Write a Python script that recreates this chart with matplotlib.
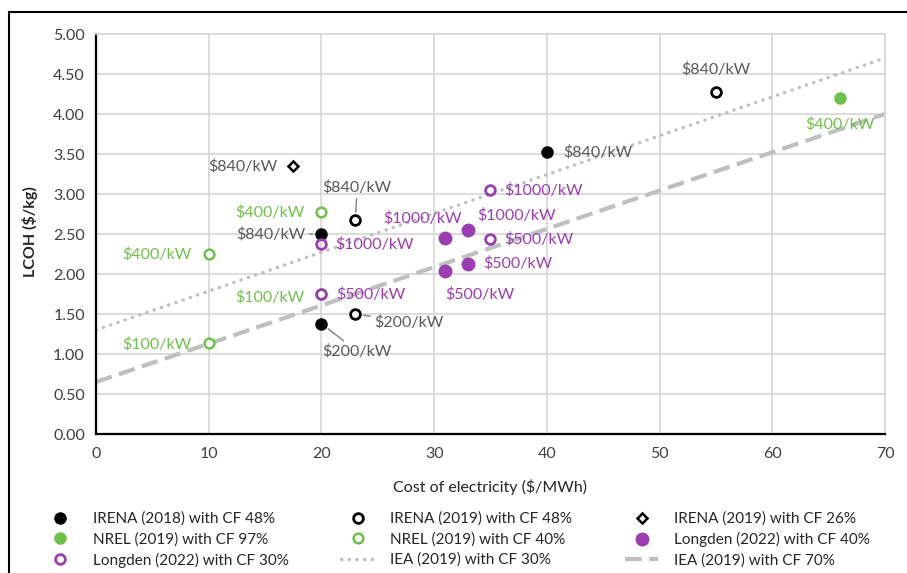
import matplotlib
matplotlib.use("Agg")
import matplotlib.pyplot as plt
from matplotlib.lines import Line2D
from matplotlib.patches import Rectangle

plt.rcParams["font.family"] = ["Lato", "DejaVu Sans"]

# ===== Data =====
irena18_x = [20, 40, 20]
irena18_y = [2.50, 3.52, 1.38]
irena18_lab = ["$840/kW", "$840/kW", "$200/kW"]

irena19_x = [23, 55, 23]
irena19_y = [2.67, 4.27, 1.50]
irena19_lab = ["$840/kW", "$840/kW", "$200/kW"]

irena26_x = [17.5]
irena26_y = [3.35]
irena26_lab = ["$840/kW"]

nrel97_x = [66]
nrel97_y = [4.20]
nrel97_lab = ["$400/kW"]

nrel40_x = [20, 10, 20, 10]
nrel40_y = [2.77, 2.25, 1.75, 1.14]
nrel40_lab = ["$400/kW", "$400/kW", "$100/kW", "$100/kW"]

longden40_x = [31, 33, 31, 33]
longden40_y = [2.45, 2.55, 2.04, 2.13]
longden40_lab = ["$1000/kW", "$1000/kW", "$500/kW", "$500/kW"]

longden30_x = [20, 35, 35, 20]
longden30_y = [2.37, 3.05, 2.44, 1.75]
longden30_lab = ["$1000/kW", "$1000/kW", "$500/kW", "$500/kW"]

iea_x = [0, 70]
iea30_y = [1.30, 4.70]
iea70_y = [0.65, 4.00]

# ===== Colours =====
black = "#000000"
label_gray = "#595959"
green = "#6EC04C"
purple = "#9B3DB1"
line_gray = "#BFBFBF"

fig = plt.figure(figsize=(9.07, 5.73), dpi=100)
ax = fig.add_axes([96 / 907, 1 - 434 / 573, 789 / 907, 400 / 573])

# trend lines
ax.plot(iea_x, iea30_y, color=line_gray, lw=2.4, linestyle=(0, (0.1, 2.2)),
        dash_capstyle="round", zorder=2)
ax.plot(iea_x, iea70_y, color=line_gray, lw=3, linestyle=(0, (4, 1.8)), zorder=2)

ms = 8
ax.plot(irena18_x, irena18_y, "o", color=black, ms=ms, zorder=4)
ax.plot(irena19_x, irena19_y, "o", mfc="white", mec=black, mew=2, ms=ms - 1, zorder=4)
ax.plot(irena26_x, irena26_y, "D", mfc="white", mec=black, mew=1.8, ms=5.5, zorder=4)
ax.plot(nrel97_x, nrel97_y, "o", color=green, ms=ms, zorder=4)
ax.plot(nrel40_x, nrel40_y, "o", mfc="white", mec=green, mew=1.8, ms=ms - 1, zorder=4)
ax.plot(longden40_x, longden40_y, "o", color=purple, ms=ms + 1, zorder=4)
ax.plot(longden30_x, longden30_y, "o", mfc="none", mec=purple, mew=2, ms=ms - 1, zorder=5)

# data labels: (dx, dy) offsets in pixels and alignment
fs = 11.5


def put_labels(xs, ys, labs, color, offs, leader=None):
    for i, (x, y, t, (dx, dy, ha)) in enumerate(zip(xs, ys, labs, offs)):
        kw = {}
        if leader and leader[i]:
            kw["arrowprops"] = dict(arrowstyle="-", color="#7F7F7F", lw=1,
                                    shrinkA=1, shrinkB=6)
        ax.annotate(t, (x, y), xytext=(dx, dy), textcoords="offset pixels",
                    ha=ha, va="center", color=color, fontsize=fs, zorder=3, **kw)


put_labels(irena18_x, irena18_y, irena18_lab, label_gray,
           [(-16, 0, "right"), (16, 0, "left"), (36, -28, "center")],
           leader=[True, False, True])
put_labels(irena19_x, irena19_y, irena19_lab, label_gray,
           [(2, 33, "center"), (0, 23, "center"), (19, -8, "left")],
           leader=[True, False, True])
put_labels(irena26_x, irena26_y, irena26_lab, label_gray, [(-16, 0, "right")])
put_labels(nrel97_x, nrel97_y, nrel97_lab, green, [(0, -26, "center")])
put_labels(nrel40_x, nrel40_y, nrel40_lab, green,
           [(-17, 0, "right"), (-17, 0, "right"), (-17, -3, "right"), (-17, -1, "right")])
put_labels(longden40_x, longden40_y, longden40_lab, purple,
           [(-23, 20, "center"), (49, 15, "center"), (34, -23, "center"), (15, 0, "left")])
put_labels(longden30_x, longden30_y, longden30_lab, purple,
           [(14, 0, "left"), (14, 0, "left"), (14, 0, "left"), (15, 0, "left")])

# ===== Axes =====
ax.set_xlim(0, 70)
ax.set_ylim(0, 5)
ax.set_xticks(range(0, 71, 10))
ax.set_yticks([i * 0.5 for i in range(11)])
ax.set_yticklabels([f"{i * 0.5:.2f}" for i in range(11)])
ax.tick_params(length=0, labelsize=11.5, colors="#404040", pad=8)
ax.tick_params(axis="x", pad=9)
ax.grid(True, color="#D9D9D9", lw=1.3, zorder=0)
ax.set_axisbelow(True)
for s in ["top", "right"]:
    ax.spines[s].set_color("#D9D9D9")
    ax.spines[s].set_linewidth(1.3)
for s in ["left", "bottom"]:
    ax.spines[s].set_color(black)
    ax.spines[s].set_linewidth(1.6)

fig.text(30 / 907, 1 - 232 / 573, "LCOH ($/kg)", rotation=90, ha="center",
         va="center", fontsize=11.5, fontweight="bold", color="#262626")
fig.text(490 / 907, 1 - 487 / 573, "Cost of electricity ($/MWh)", ha="center",
         va="center", fontsize=11.5, color="#262626")

# ===== Legend (column-major order for ncol=3) =====
h = {
    "IRENA (2018) with CF 48%": Line2D([], [], ls="none", marker="o", color=black, ms=ms),
    "IRENA (2019) with CF 48%": Line2D([], [], ls="none", marker="o", mfc="white", mec=black, mew=2, ms=ms - 1),
    "IRENA (2019) with CF 26%": Line2D([], [], ls="none", marker="D", mfc="white", mec=black, mew=1.8, ms=5.5),
    "NREL (2019) with CF 97%": Line2D([], [], ls="none", marker="o", color=green, ms=ms),
    "NREL (2019) with CF 40%": Line2D([], [], ls="none", marker="o", mfc="white", mec=green, mew=1.8, ms=ms - 1),
    "Longden (2022) with CF 40%": Line2D([], [], ls="none", marker="o", color=purple, ms=ms + 1),
    "Longden (2022) with CF 30%": Line2D([], [], ls="none", marker="o", mfc="white", mec=purple, mew=2, ms=ms - 1),
    "IEA (2019) with CF 30%": Line2D([], [], color=line_gray, lw=2.4, ls=(0, (0.1, 2.2)), dash_capstyle="round"),
    "IEA (2019) with CF 70%": Line2D([], [], color=line_gray, lw=3, ls=(0, (4, 1.8))),
}
order = ["IRENA (2018) with CF 48%", "NREL (2019) with CF 97%", "Longden (2022) with CF 30%",
         "IRENA (2019) with CF 48%", "NREL (2019) with CF 40%", "IEA (2019) with CF 30%",
         "IRENA (2019) with CF 26%", "Longden (2022) with CF 40%", "IEA (2019) with CF 70%"]
leg = fig.legend([h[k] for k in order], order, ncol=3, loc="upper left",
                 bbox_to_anchor=(36 / 907, 1 - 504 / 573), frameon=False,
                 fontsize=11, handlelength=2.2, handletextpad=1.0,
                 columnspacing=3.45, labelspacing=0.4, borderpad=0)
for t in leg.get_texts():
    t.set_color("#262626")

# outer frame
fig.add_artist(Rectangle((9 / 907, -0.5), 2, 0.5 + 1 - 12 / 573, fill=False,
                         lw=1.5, edgecolor=black, transform=fig.transFigure,
                         clip_on=False))

fig.savefig("out.png", dpi=100)
